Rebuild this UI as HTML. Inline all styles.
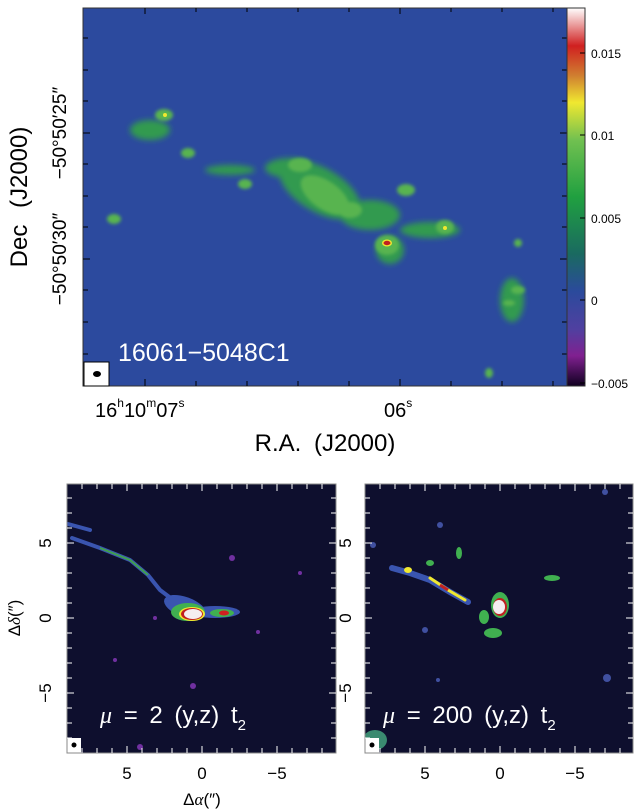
<!DOCTYPE html>
<html><head><style>
body{margin:0;background:#fff;}
svg{display:block;font-family:"Liberation Sans",sans-serif;}
</style></head><body>
<svg width="640" height="812" viewBox="0 0 640 812" xmlns="http://www.w3.org/2000/svg">
<defs>
<filter id="b3"><feGaussianBlur stdDeviation="3"/></filter>
<filter id="b2"><feGaussianBlur stdDeviation="1.5"/></filter>
<linearGradient id="cb" x1="0" y1="1" x2="0" y2="0">
<stop offset="0" stop-color="#100020"/><stop offset="0.08" stop-color="#802090"/>
<stop offset="0.15" stop-color="#5040a0"/><stop offset="0.25" stop-color="#2b4a9c"/>
<stop offset="0.35" stop-color="#1a6a60"/><stop offset="0.5" stop-color="#20a040"/>
<stop offset="0.65" stop-color="#70c050"/><stop offset="0.75" stop-color="#f0e830"/>
<stop offset="0.82" stop-color="#d08030"/><stop offset="0.9" stop-color="#d02020"/>
<stop offset="1" stop-color="#ffffff"/></linearGradient>
<clipPath id="ct"><rect x="83" y="8" width="484" height="378"/></clipPath>
<clipPath id="cl"><rect x="67" y="484" width="269" height="269"/></clipPath>
<clipPath id="cr"><rect x="365" y="484" width="268" height="269"/></clipPath>
</defs>
<rect x="83" y="8" width="484" height="378" fill="#2c4a9e"/>
<g clip-path="url(#ct)">
<g filter="url(#b3)" fill="#309a50">
<ellipse cx="320" cy="190" rx="45" ry="22" transform="rotate(30 320 190)"/>
<ellipse cx="290" cy="168" rx="25" ry="10"/>
<ellipse cx="370" cy="215" rx="30" ry="15"/>
<ellipse cx="230" cy="170" rx="25" ry="5"/>
<ellipse cx="150" cy="130" rx="20" ry="10"/>
<ellipse cx="430" cy="230" rx="30" ry="8"/>
<ellipse cx="512" cy="300" rx="12" ry="22"/>
<ellipse cx="390" cy="250" rx="14" ry="14"/>
</g>
<g filter="url(#b2)" fill="#58b450">
<ellipse cx="325" cy="195" rx="28" ry="14" transform="rotate(35 325 195)"/>
<ellipse cx="300" cy="165" rx="12" ry="7"/>
<ellipse cx="350" cy="210" rx="12" ry="8"/>
<ellipse cx="164" cy="115" rx="9" ry="6"/>
<ellipse cx="188" cy="153" rx="7" ry="5"/>
<ellipse cx="245" cy="184" rx="7" ry="5"/>
<ellipse cx="114" cy="219" rx="7" ry="5"/>
<ellipse cx="406" cy="190" rx="9" ry="6"/>
<ellipse cx="387" cy="245" rx="12" ry="10"/>
<ellipse cx="445" cy="227" rx="9" ry="7"/>
<ellipse cx="518" cy="290" rx="7" ry="4"/>
<ellipse cx="509" cy="303" rx="6" ry="3"/>
<ellipse cx="518" cy="243" rx="4" ry="4"/>
<ellipse cx="489" cy="373" rx="4" ry="5"/>
</g>
<circle cx="165" cy="115" r="2" fill="#f0e830"/>
<circle cx="445" cy="228" r="2" fill="#f0e830"/>
<ellipse cx="387" cy="243" rx="5" ry="3.5" fill="#f0e830"/>
<ellipse cx="387" cy="243" rx="3.5" ry="2.2" fill="#c02020"/>
</g>
<rect x="83" y="8" width="484" height="378" fill="none" stroke="#333" stroke-width="1"/>
<rect x="84" y="362" width="25" height="24" fill="#fff" stroke="#000" stroke-width="1"/>
<ellipse cx="97" cy="374" rx="4" ry="3" fill="#000"/>
<g stroke="#000" stroke-width="1">
<line x1="145" y1="8" x2="145" y2="14"/><line x1="196" y1="8" x2="196" y2="12"/><line x1="247" y1="8" x2="247" y2="12"/><line x1="298" y1="8" x2="298" y2="12"/><line x1="349" y1="8" x2="349" y2="12"/><line x1="400" y1="8" x2="400" y2="14"/><line x1="451" y1="8" x2="451" y2="12"/><line x1="502" y1="8" x2="502" y2="12"/><line x1="553" y1="8" x2="553" y2="12"/>
<line x1="145" y1="386" x2="145" y2="379"/><line x1="196" y1="386" x2="196" y2="381"/><line x1="247" y1="386" x2="247" y2="381"/><line x1="298" y1="386" x2="298" y2="381"/><line x1="349" y1="386" x2="349" y2="381"/><line x1="400" y1="386" x2="400" y2="379"/><line x1="451" y1="386" x2="451" y2="381"/><line x1="502" y1="386" x2="502" y2="381"/><line x1="553" y1="386" x2="553" y2="381"/>
<line x1="83" y1="38" x2="88" y2="38"/><line x1="83" y1="70" x2="88" y2="70"/><line x1="83" y1="101" x2="88" y2="101"/><line x1="83" y1="133" x2="90" y2="133"/><line x1="83" y1="164" x2="88" y2="164"/><line x1="83" y1="196" x2="88" y2="196"/><line x1="83" y1="227" x2="88" y2="227"/><line x1="83" y1="259" x2="90" y2="259"/><line x1="83" y1="290" x2="88" y2="290"/><line x1="83" y1="322" x2="88" y2="322"/><line x1="83" y1="354" x2="88" y2="354"/>
<line x1="567" y1="38" x2="562" y2="38"/><line x1="567" y1="70" x2="562" y2="70"/><line x1="567" y1="101" x2="562" y2="101"/><line x1="567" y1="133" x2="560" y2="133"/><line x1="567" y1="164" x2="562" y2="164"/><line x1="567" y1="196" x2="562" y2="196"/><line x1="567" y1="227" x2="562" y2="227"/><line x1="567" y1="259" x2="560" y2="259"/><line x1="567" y1="290" x2="562" y2="290"/><line x1="567" y1="322" x2="562" y2="322"/><line x1="567" y1="354" x2="562" y2="354"/>
</g>
<text x="118" y="361" font-size="25" fill="#fff">16061−5048C1</text>
<rect x="567" y="8" width="18" height="378" fill="url(#cb)" stroke="#333" stroke-width="1"/>
<g stroke="#000" stroke-width="1">
<line x1="580" y1="53" x2="585" y2="53"/><line x1="580" y1="135" x2="585" y2="135"/><line x1="580" y1="218" x2="585" y2="218"/><line x1="580" y1="300" x2="585" y2="300"/><line x1="580" y1="383" x2="585" y2="383"/>
</g>
<g font-size="12" fill="#000">
<text x="591" y="58">0.015</text><text x="591" y="140">0.01</text><text x="591" y="223">0.005</text><text x="591" y="305">0</text><text x="591" y="388">−0.005</text>
</g>
<text x="95" y="417" font-size="20">16<tspan font-size="12" dy="-10">h</tspan><tspan dy="10">10</tspan><tspan font-size="12" dy="-10">m</tspan><tspan dy="10">07</tspan><tspan font-size="12" dy="-10">s</tspan></text>
<text x="384" y="417" font-size="20">06<tspan font-size="12" dy="-10">s</tspan></text>
<text x="325" y="451" font-size="24" text-anchor="middle" word-spacing="6">R.A. (J2000)</text>
<text transform="translate(27 197) rotate(-90)" font-size="24" text-anchor="middle" word-spacing="10">Dec (J2000)</text>
<text transform="translate(66 133) rotate(-90)" font-size="19" text-anchor="middle">−50°50′25″</text>
<text transform="translate(66 259) rotate(-90)" font-size="19" text-anchor="middle">−50°50′30″</text>
<!-- bottom left -->
<rect x="67" y="484" width="269" height="269" fill="#0e0f2e"/>
<g clip-path="url(#cl)">
<g stroke="#3a55b0" stroke-width="4" fill="none" stroke-linecap="round">
<path d="M72 538 L100 548 L130 560 L148 575 L160 590 L180 605"/>
<path d="M68 524 L90 530"/>
</g>
<g stroke="#40a050" stroke-width="2" fill="none"><path d="M100 548 L130 560 L148 575"/></g>
<ellipse cx="185" cy="607" rx="22" ry="10" fill="#3a55b0" transform="rotate(20 185 607)"/>
<ellipse cx="215" cy="612" rx="25" ry="6" fill="#3a55b0"/>
<ellipse cx="188" cy="612" rx="17" ry="9" fill="#40b050"/>
<ellipse cx="222" cy="613" rx="12" ry="4" fill="#40b050"/>
<ellipse cx="192" cy="614" rx="13" ry="7" fill="#f0e830"/>
<ellipse cx="224" cy="613" rx="5" ry="2.5" fill="#d02020"/>
<ellipse cx="192" cy="614" rx="11" ry="6" fill="#c02020"/>
<ellipse cx="193" cy="614" rx="9" ry="5" fill="#f5eef0"/>
<g fill="#7030a0"><circle cx="155" cy="618" r="2"/><circle cx="232" cy="558" r="3"/><circle cx="258" cy="632" r="2"/><circle cx="115" cy="660" r="2"/><circle cx="193" cy="686" r="3"/><circle cx="300" cy="573" r="2"/><circle cx="140" cy="747" r="3"/></g>
<rect x="67" y="738" width="14" height="15" fill="#fff"/><circle cx="74" cy="745" r="2.5" fill="#000"/>
</g>
<rect x="67" y="484" width="269" height="269" fill="none" stroke="#888" stroke-width="1"/>
<!-- bottom right -->
<rect x="365" y="484" width="268" height="269" fill="#0e0f2e"/>
<g clip-path="url(#cr)">
<path d="M392 568 L410 573 L430 580 L450 592 L468 602" stroke="#3a55b0" stroke-width="6" fill="none" stroke-linecap="round"/>
<path d="M430 578 L448 590 L465 600" stroke="#f0e830" stroke-width="3" fill="none" stroke-linecap="round"/>
<path d="M440 585 L448 590" stroke="#c02020" stroke-width="3"/>
<ellipse cx="500" cy="605" rx="9" ry="13" fill="#40b050"/>
<ellipse cx="500" cy="607" rx="7" ry="9" fill="#c02020"/>
<ellipse cx="499" cy="607" rx="6" ry="7" fill="#f5eef0"/>
<ellipse cx="484" cy="617" rx="5" ry="7" fill="#40b050"/>
<ellipse cx="493" cy="633" rx="9" ry="5" fill="#40b050"/>
<ellipse cx="459" cy="553" rx="3" ry="6" fill="#40b050"/>
<ellipse cx="430" cy="563" rx="4" ry="3" fill="#40b050"/>
<ellipse cx="408" cy="570" rx="4" ry="3" fill="#f0e830"/>
<ellipse cx="552" cy="578" rx="8" ry="3" fill="#40b050"/>
<ellipse cx="375" cy="740" rx="12" ry="10" fill="#3a8a70"/>
<g fill="#4050a0"><circle cx="440" cy="525" r="3"/><circle cx="373" cy="545" r="3"/><circle cx="425" cy="630" r="3"/><circle cx="438" cy="680" r="2"/><circle cx="607" cy="678" r="4"/><circle cx="605" cy="492" r="3"/></g>
<rect x="365" y="738" width="14" height="15" fill="#fff"/><circle cx="372" cy="745" r="2.5" fill="#000"/>
</g>
<rect x="365" y="484" width="268" height="269" fill="none" stroke="#888" stroke-width="1"/>
<g stroke="#fff" stroke-width="1">
<path d="M82 484v5M97 484v5M112 484v5M127 484v7M142 484v5M157 484v5M172 484v5M187 484v5M202 484v7M217 484v5M232 484v5M247 484v5M262 484v5M277 484v7M292 484v5M307 484v5M322 484v5"/>
<path d="M82 753v-5M97 753v-5M112 753v-5M127 753v-7M142 753v-5M157 753v-5M172 753v-5M187 753v-5M202 753v-7M217 753v-5M232 753v-5M247 753v-5M262 753v-5M277 753v-7M292 753v-5M307 753v-5M322 753v-5"/>
<path d="M67 498h5M67 513h5M67 528h5M67 543h7M67 558h5M67 573h5M67 588h5M67 603h5M67 618h7M67 633h5M67 648h5M67 663h5M67 678h5M67 693h7M67 708h5M67 723h5M67 738h5"/>
<path d="M336 498h-5M336 513h-5M336 528h-5M336 543h-7M336 558h-5M336 573h-5M336 588h-5M336 603h-5M336 618h-7M336 633h-5M336 648h-5M336 663h-5M336 678h-5M336 693h-7M336 708h-5M336 723h-5M336 738h-5"/>
<path d="M380 484v5M395 484v5M410 484v5M425 484v7M440 484v5M455 484v5M470 484v5M485 484v5M500 484v7M515 484v5M530 484v5M545 484v5M560 484v5M575 484v7M590 484v5M605 484v5M620 484v5"/>
<path d="M380 753v-5M395 753v-5M410 753v-5M425 753v-7M440 753v-5M455 753v-5M470 753v-5M485 753v-5M500 753v-7M515 753v-5M530 753v-5M545 753v-5M560 753v-5M575 753v-7M590 753v-5M605 753v-5M620 753v-5"/>
<path d="M365 498h5M365 513h5M365 528h5M365 543h7M365 558h5M365 573h5M365 588h5M365 603h5M365 618h7M365 633h5M365 648h5M365 663h5M365 678h5M365 693h7M365 708h5M365 723h5M365 738h5"/>
<path d="M633 498h-5M633 513h-5M633 528h-5M633 543h-7M633 558h-5M633 573h-5M633 588h-5M633 603h-5M633 618h-7M633 633h-5M633 648h-5M633 663h-5M633 678h-5M633 693h-7M633 708h-5M633 723h-5M633 738h-5"/>
</g>
<g font-size="24" fill="#fff" xml:space="preserve">
<text x="100" y="723" word-spacing="5"><tspan font-family="Liberation Serif" font-style="italic">μ</tspan>  =  2   (y,z)  t<tspan font-size="15" dy="7">2</tspan></text>
<text x="383" y="723" word-spacing="5"><tspan font-family="Liberation Serif" font-style="italic">μ</tspan>  =  200   (y,z)  t<tspan font-size="15" dy="7">2</tspan></text>
</g>
<g font-size="17" fill="#000" text-anchor="middle">
<text x="127" y="779">5</text><text x="202" y="779">0</text><text x="277" y="779">−5</text>
<text x="425" y="779">5</text><text x="500" y="779">0</text><text x="575" y="779">−5</text>
<text transform="translate(51 543) rotate(-90)">5</text><text transform="translate(51 618) rotate(-90)">0</text><text transform="translate(51 693) rotate(-90)">−5</text>
<text transform="translate(351 543) rotate(-90)">5</text><text transform="translate(351 618) rotate(-90)">0</text><text transform="translate(351 693) rotate(-90)">−5</text>
<text x="202" y="805">Δ<tspan font-family="Liberation Serif" font-style="italic">α</tspan>(″)</text>
<text transform="translate(20 618) rotate(-90)">Δ<tspan font-family="Liberation Serif" font-style="italic">δ</tspan>(″)</text>
</g>
</svg>
</body></html>
